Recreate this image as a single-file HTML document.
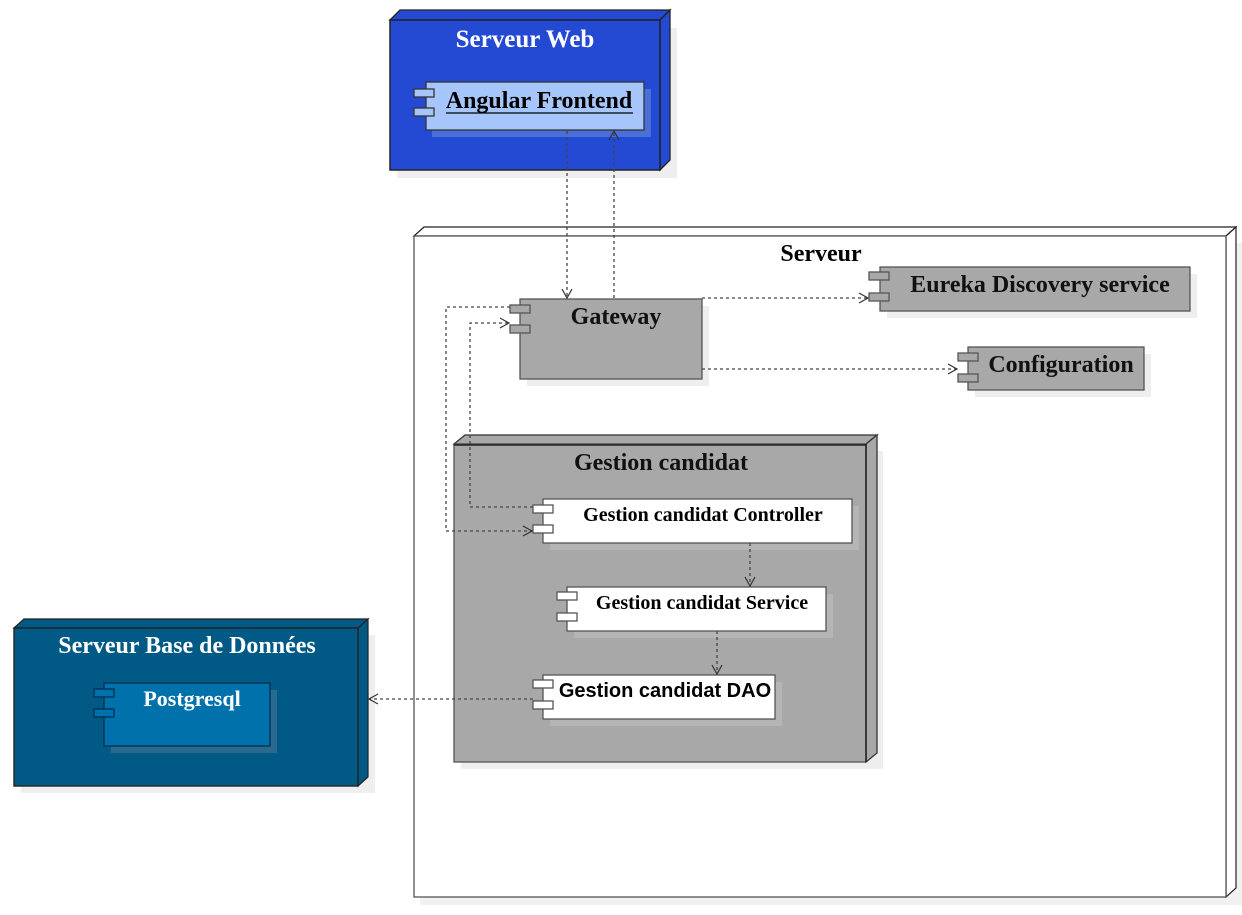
<!DOCTYPE html>
<html><head><meta charset="utf-8"><style>
html,body{margin:0;padding:0;background:#fff;}
svg{display:block;}
.t{font-family:"Liberation Serif",serif;font-weight:bold;}
.s{font-family:"Liberation Sans",sans-serif;font-weight:bold;}
.c{stroke:#444;stroke-width:1.3;stroke-dasharray:3,3;fill:none;}
.a{stroke:#333;stroke-width:1.2;fill:none;}
</style></head><body>
<svg width="1242" height="915" viewBox="0 0 1242 915" xmlns="http://www.w3.org/2000/svg">
<!-- Serveur Web -->
<rect x="397" y="28" width="280" height="150" fill="#eee"/>
<polygon points="390,20 400,10 670,10 660,20" fill="#2449d2" stroke="#222" stroke-width="1.3"/>
<polygon points="660,20 670,10 670,160 660,170" fill="#2449d2" stroke="#222" stroke-width="1.3"/>
<rect x="390" y="20" width="270" height="150" fill="#2449d2" stroke="#222" stroke-width="1.5"/>
<text x="525" y="47" class="t" font-size="25" fill="#fff" text-anchor="middle">Serveur Web</text>
<rect x="432" y="89" width="219" height="48" fill="#4a6fd8"/>
<rect x="426" y="82" width="218" height="48" fill="#a6c6fb" stroke="#333" stroke-width="1.3"/>
<rect x="414" y="89" width="20" height="8" fill="#a6c6fb" stroke="#333" stroke-width="1.3"/>
<rect x="414" y="108" width="20" height="8" fill="#a6c6fb" stroke="#333" stroke-width="1.3"/>
<text x="539" y="108" class="t" font-size="24" fill="#000" text-anchor="middle">Angular Frontend</text>
<line x1="446" y1="113" x2="633" y2="113" stroke="#000" stroke-width="1.3"/>

<!-- Serveur -->
<rect x="420" y="243" width="822" height="662" fill="#f1f1f1"/>
<polygon points="414,236 424,227 1236,227 1226,236" fill="#fff" stroke="#222" stroke-width="1.2"/>
<polygon points="1226,236 1236,227 1236,888 1226,897" fill="#fff" stroke="#222" stroke-width="1.2"/>
<rect x="414" y="236" width="812" height="661" fill="#fff" stroke="#555" stroke-width="1.3"/>
<text x="821" y="261" class="t" font-size="24" fill="#000" text-anchor="middle">Serveur</text>

<!-- Gateway -->
<rect x="527" y="306" width="182" height="80" fill="#eee"/>
<rect x="520" y="299" width="182" height="80" fill="#a8a8a8" stroke="#555" stroke-width="1.3"/>
<rect x="510" y="305" width="20" height="8" fill="#a8a8a8" stroke="#555" stroke-width="1.3"/>
<rect x="510" y="325" width="20" height="8" fill="#a8a8a8" stroke="#555" stroke-width="1.3"/>
<text x="616" y="324" class="t" font-size="24" fill="#111" text-anchor="middle">Gateway</text>

<!-- Eureka -->
<rect x="887" y="274" width="310" height="44" fill="#eee"/>
<rect x="880" y="267" width="310" height="44" fill="#a8a8a8" stroke="#555" stroke-width="1.3"/>
<rect x="869" y="272" width="20" height="8" fill="#a8a8a8" stroke="#555" stroke-width="1.3"/>
<rect x="869" y="293" width="20" height="8" fill="#a8a8a8" stroke="#555" stroke-width="1.3"/>
<text x="1040" y="292" class="t" font-size="24" fill="#111" text-anchor="middle">Eureka Discovery service</text>

<!-- Configuration -->
<rect x="975" y="354" width="176" height="43" fill="#eee"/>
<rect x="968" y="347" width="176" height="43" fill="#a8a8a8" stroke="#555" stroke-width="1.3"/>
<rect x="958" y="353" width="20" height="8" fill="#a8a8a8" stroke="#555" stroke-width="1.3"/>
<rect x="958" y="374" width="20" height="8" fill="#a8a8a8" stroke="#555" stroke-width="1.3"/>
<text x="1061" y="372" class="t" font-size="24" fill="#111" text-anchor="middle">Configuration</text>

<!-- Gestion candidat -->
<rect x="461" y="451" width="422" height="318" fill="#eee"/>
<polygon points="454,444 465,435 877,435 866,444" fill="#a8a8a8" stroke="#333" stroke-width="1.3"/>
<polygon points="866,444 877,435 877,753 866,762" fill="#a8a8a8" stroke="#333" stroke-width="1.3"/>
<rect x="454" y="444" width="412" height="318" fill="#a8a8a8" stroke="#555" stroke-width="1.3"/>
<line x1="454" y1="445" x2="866" y2="445" stroke="#222" stroke-width="1.5"/>
<line x1="866" y1="444" x2="866" y2="762" stroke="#222" stroke-width="1.5"/>
<text x="661" y="470" class="t" font-size="24" fill="#111" text-anchor="middle">Gestion candidat</text>

<rect x="550" y="506" width="309" height="44" fill="#b5b5b5"/>
<rect x="543" y="499" width="309" height="44" fill="#fff" stroke="#555" stroke-width="1.3"/>
<rect x="533" y="505" width="20" height="8" fill="#fff" stroke="#555" stroke-width="1.3"/>
<rect x="533" y="525" width="20" height="8" fill="#fff" stroke="#555" stroke-width="1.3"/>
<text x="703" y="521" class="t" font-size="20" fill="#000" text-anchor="middle">Gestion candidat Controller</text>

<rect x="574" y="594" width="259" height="44" fill="#b5b5b5"/>
<rect x="567" y="587" width="259" height="44" fill="#fff" stroke="#555" stroke-width="1.3"/>
<rect x="557" y="592" width="20" height="8" fill="#fff" stroke="#555" stroke-width="1.3"/>
<rect x="557" y="613" width="20" height="8" fill="#fff" stroke="#555" stroke-width="1.3"/>
<text x="702" y="609" class="t" font-size="20" fill="#000" text-anchor="middle">Gestion candidat Service</text>

<rect x="550" y="682" width="232" height="44" fill="#b5b5b5"/>
<rect x="543" y="675" width="232" height="44" fill="#fff" stroke="#555" stroke-width="1.3"/>
<rect x="533" y="680" width="20" height="8" fill="#fff" stroke="#555" stroke-width="1.3"/>
<rect x="533" y="701" width="20" height="8" fill="#fff" stroke="#555" stroke-width="1.3"/>
<text x="665" y="697" class="s" font-size="20" fill="#000" text-anchor="middle">Gestion candidat DAO</text>

<!-- Serveur Base de Donnees -->
<rect x="21" y="635" width="354" height="158" fill="#eee"/>
<polygon points="14,628 24,619 368,619 358,628" fill="#005a85" stroke="#222" stroke-width="1.2"/>
<polygon points="358,628 368,619 368,777 358,786" fill="#005a85" stroke="#222" stroke-width="1.2"/>
<rect x="14" y="628" width="344" height="158" fill="#005a85" stroke="#222" stroke-width="1.4"/>
<text x="187" y="653" class="t" font-size="24" fill="#fff" text-anchor="middle">Serveur Base de Données</text>
<rect x="111" y="690" width="166" height="63" fill="#2a6a8e"/>
<rect x="104" y="683" width="166" height="63" fill="#0071ab" stroke="#003050" stroke-width="1.3"/>
<rect x="94" y="689" width="20" height="8" fill="#0071ab" stroke="#003050" stroke-width="1.3"/>
<rect x="94" y="709" width="20" height="8" fill="#0071ab" stroke="#003050" stroke-width="1.3"/>
<text x="192" y="706" class="t" font-size="22" fill="#fff" text-anchor="middle">Postgresql</text>

<!-- Connectors -->
<path class="c" d="M567,131 V298"/>
<path class="a" d="M562,289 L567,298 L572,289"/>
<path class="c" d="M614,298 V131"/>
<path class="a" d="M609,140 L614,131 L619,140"/>
<path class="c" d="M702,298 H868"/>
<path class="a" d="M859,293 L868,298 L859,303"/>
<path class="c" d="M702,369 H957"/>
<path class="a" d="M948,364 L957,369 L948,374"/>
<path class="c" d="M510,307 H446 V531 H532"/>
<path class="a" d="M523,526 L532,531 L523,536"/>
<path class="c" d="M533,507 H470 V323 H509"/>
<path class="a" d="M500,318 L509,323 L500,328"/>
<path class="c" d="M750,543 V586"/>
<path class="a" d="M745,577 L750,586 L755,577"/>
<path class="c" d="M717,631 V674"/>
<path class="a" d="M712,665 L717,674 L722,665"/>
<path class="c" d="M533,699 H369"/>
<path class="a" d="M378,694 L369,699 L378,704"/>
</svg>
</body></html>
